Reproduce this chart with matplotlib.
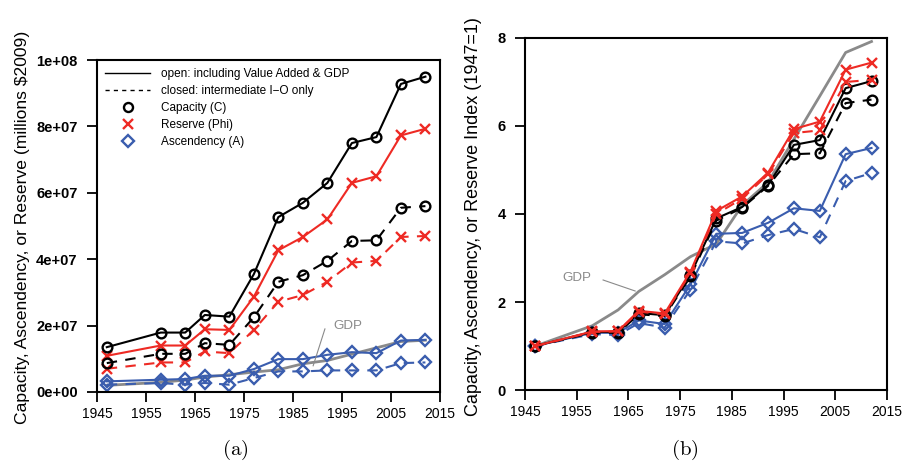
import numpy as np
import matplotlib
matplotlib.use("Agg")
import matplotlib.pyplot as plt
from matplotlib.lines import Line2D

plt.rcParams['font.family'] = ['Liberation Sans', 'DejaVu Sans']
plt.rcParams['mathtext.fontset'] = 'cm'

# ---------------- data ----------------
years = [1947, 1958, 1963, 1967, 1972, 1977, 1982, 1987, 1992, 1997, 2002, 2007, 2012]

# (a) levels, millions $2009
cap_open = [13.5e6, 17.9e6, 17.9e6, 23.2e6, 22.7e6, 35.5e6, 52.7e6, 57.0e6, 63.0e6, 75.0e6, 76.8e6, 92.8e6, 95.0e6]
cap_closed = [8.7e6, 11.5e6, 11.5e6, 14.7e6, 14.2e6, 22.5e6, 33.2e6, 35.2e6, 39.5e6, 45.5e6, 45.7e6, 55.5e6, 56.0e6]
res_open = [10.9e6, 14.0e6, 14.0e6, 18.9e6, 18.7e6, 28.7e6, 42.7e6, 46.7e6, 52.0e6, 63.0e6, 65.0e6, 77.3e6, 79.3e6]
res_closed = [7.0e6, 8.9e6, 8.9e6, 12.2e6, 11.7e6, 18.7e6, 27.2e6, 29.2e6, 33.2e6, 39.0e6, 39.5e6, 46.7e6, 47.0e6]
asc_open = [3.2e6, 3.7e6, 3.9e6, 4.9e6, 4.9e6, 6.9e6, 9.9e6, 9.9e6, 11.2e6, 12.0e6, 11.7e6, 15.5e6, 15.7e6]
asc_closed = [2.2e6, 2.7e6, 2.2e6, 2.7e6, 2.2e6, 4.2e6, 6.2e6, 6.2e6, 6.5e6, 6.5e6, 6.5e6, 8.7e6, 8.9e6]
gdp = [2.0e6, 2.9e6, 3.6e6, 4.5e6, 5.2e6, 6.0e6, 6.7e6, 8.5e6, 9.5e6, 11.4e6, 13.3e6, 15.2e6, 15.6e6]

# (b) index, 1947 = 1
cap_open_idx = [1, 1.32, 1.32, 1.75, 1.70, 2.62, 3.90, 4.16, 4.66, 5.57, 5.68, 6.86, 7.02]
cap_closed_idx = [1, 1.30, 1.30, 1.72, 1.68, 2.58, 3.85, 4.14, 4.64, 5.36, 5.38, 6.52, 6.60]
res_open_idx = [1, 1.33, 1.34, 1.80, 1.74, 2.69, 4.07, 4.40, 4.94, 5.93, 6.10, 7.28, 7.44]
res_closed_idx = [1, 1.32, 1.33, 1.78, 1.72, 2.66, 4.00, 4.35, 4.90, 5.84, 5.90, 7.00, 7.05]
asc_open_idx = [1, 1.30, 1.30, 1.58, 1.50, 2.40, 3.55, 3.57, 3.80, 4.13, 4.07, 5.36, 5.50]
asc_closed_idx = [1, 1.27, 1.25, 1.52, 1.42, 2.28, 3.38, 3.33, 3.52, 3.66, 3.47, 4.75, 4.93]
gdp_idx = [1, 1.46, 1.82, 2.24, 2.62, 3.03, 3.32, 4.20, 4.72, 5.70, 6.68, 7.67, 7.92]

xticks = [1945, 1955, 1965, 1975, 1985, 1995, 2005, 2015]
yticks_a = [0, 2e7, 4e7, 6e7, 8e7, 1e8]
yticklabels_a = ['0e+00', '2e+07', '4e+07', '6e+07', '8e+07', '1e+08']
yticks_b = [0, 2, 4, 6, 8]

BLACK = 'black'
RED = '#EE2A24'
BLUE = '#3A5DAE'
GRAY = '#8A8A8A'
DASH = (0, (5, 4))
LW = 1.5


def draw_series(ax, open_vals, closed_vals, color, marker, ms):
    kw = dict(color=color, lw=LW, marker=marker, ms=ms, mew=1.7,
              mfc='none', mec=color)
    ax.plot(years, closed_vals, linestyle=DASH, **kw)
    ax.plot(years, open_vals, linestyle='-', **kw)


def style_axes(ax):
    for s in ax.spines.values():
        s.set_linewidth(1.5)
    ax.set_xlim(1945, 2015)
    ax.set_xticks(xticks)
    ax.tick_params(axis='both', direction='out', length=7, width=1.3)
    ax.tick_params(axis='x', labelsize=10, pad=4)
    ax.tick_params(axis='y', labelsize=10.5, pad=7)
    for lab in ax.get_yticklabels():
        lab.set_fontweight('bold')


fig = plt.figure(figsize=(9.03, 4.61), dpi=100)

# ---------------- (a) ----------------
ax1 = fig.add_axes([0.1074, 0.1497, 0.380, 0.720])
ax1.plot(years, gdp, color=GRAY, lw=2.0, zorder=1)
draw_series(ax1, asc_open, asc_closed, BLUE, 'D', 6.5)
draw_series(ax1, res_open, res_closed, RED, 'x', 7.5)
draw_series(ax1, cap_open, cap_closed, BLACK, 'o', 7)
ax1.set_ylim(0, 1e8)
ax1.set_yticks(yticks_a)
ax1.set_yticklabels(yticklabels_a)
style_axes(ax1)
ax1.text(1993.2, 2.0e7, 'GDP', color=GRAY, fontsize=9.6, va='center', ha='left')
ax1.plot([1991.5, 1989.1], [1.9e7, 0.79e7], color=GRAY, lw=0.8)
fig.text(23 / 903, 1 - 227 / 461, 'Capacity, Ascendency, or Reserve (millions $2009)',
         rotation=90, fontsize=12.6, ha='center', va='center')

handles = [
    Line2D([], [], color='black', lw=1.0, linestyle='-'),
    Line2D([], [], color='black', lw=1.0, linestyle=(0, (3, 3))),
    Line2D([], [], color='black', linestyle='none', marker='o', ms=6.5, mfc='none', mew=1.7),
    Line2D([], [], color=RED, linestyle='none', marker='x', ms=7, mew=1.7),
    Line2D([], [], color=BLUE, linestyle='none', marker='D', ms=6, mfc='none', mec=BLUE, mew=1.7),
]
labels = ['open: including Value Added & GDP', 'closed: intermediate I\u2212O only',
          'Capacity (C)', 'Reserve (Phi)', 'Ascendency (A)']
ax1.legend(handles, labels, loc='upper left', frameon=False, fontsize=8.5,
           handlelength=3.8, handletextpad=0.9, labelspacing=0.42,
           borderaxespad=0.3, numpoints=1)

fig.text(235 / 903, 1 - 450 / 461, r'$\mathrm{(a)}$', fontsize=15, ha='center', va='center')

# ---------------- (b) ----------------
ax2 = fig.add_axes([0.5814, 0.154, 0.4009, 0.7636])
ax2.plot(years, gdp_idx, color=GRAY, lw=2.0, zorder=1)
draw_series(ax2, asc_open_idx, asc_closed_idx, BLUE, 'D', 6.5)
draw_series(ax2, cap_open_idx, cap_closed_idx, BLACK, 'o', 7)
draw_series(ax2, res_open_idx, res_closed_idx, RED, 'x', 7.5)
ax2.set_ylim(0, 8)
ax2.set_yticks(yticks_b)
style_axes(ax2)
ax2.text(1952.2, 2.55, 'GDP', color=GRAY, fontsize=9.6, va='center', ha='left')
ax2.plot([1960.1, 1966.3], [2.5, 2.25], color=GRAY, lw=0.8)
fig.text(474 / 903, 1 - 217 / 461, 'Capacity, Ascendency, or Reserve Index (1947=1)',
         rotation=90, fontsize=13.0, ha='center', va='center')

fig.text(685 / 903, 1 - 450 / 461, r'$\mathrm{(b)}$', fontsize=15, ha='center', va='center')

fig.savefig('out.png', dpi=100)
